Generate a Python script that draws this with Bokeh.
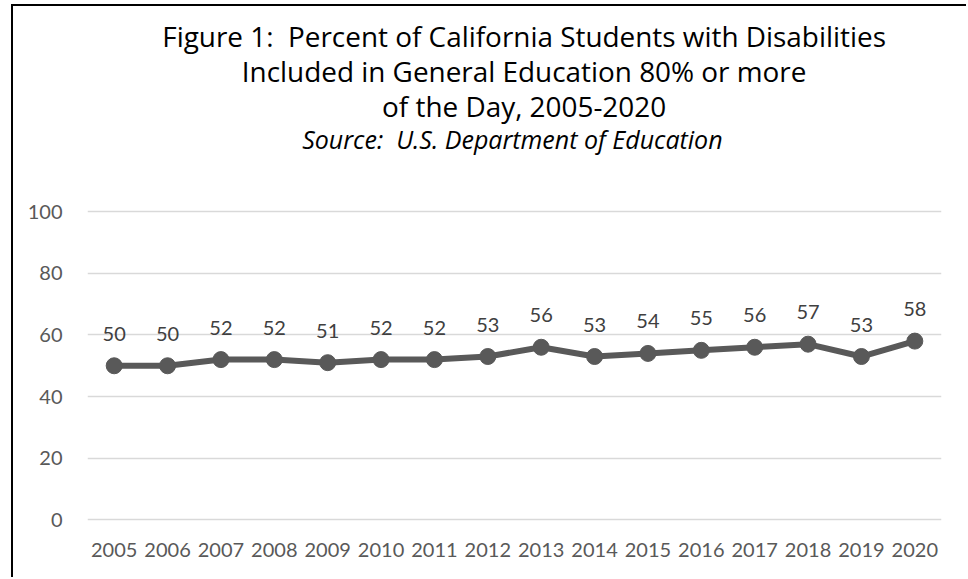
from bokeh.plotting import figure
from bokeh.models import ColumnDataSource, LabelSet, Label, Range1d
from bokeh.core.properties import value
from bokeh.embed import file_html
from bokeh.resources import INLINE

years = ["2005", "2006", "2007", "2008", "2009", "2010", "2011", "2012",
         "2013", "2014", "2015", "2016", "2017", "2018", "2019", "2020"]
values = [50, 50, 52, 52, 51, 52, 52, 53, 56, 53, 54, 55, 56, 57, 53, 58]
y_ticks = [0, 20, 40, 60, 80, 100]

NB = "\u00a0"
title_lines = ["Figure 1:" + NB + " Percent of California Students with Disabilities",
               "Included in General Education 80% or more",
               "of the Day, 2005-2020"]
subtitle = "Source:" + NB + " U.S. Department of Education"

FONT = "Lato"
TITLE_FONT = "Open Sans"

src = ColumnDataSource(data=dict(year=years, value=values,
                                 label=[str(v) for v in values]))

# the plot frame extends above the 0-100 value range to hold the title block
p = figure(x_range=years, y_range=Range1d(-0.5, 166.5), width=955, height=573,
           output_backend="svg", toolbar_location=None,
           min_border_left=74, min_border_right=27, min_border_bottom=58,
           min_border_top=0, outline_line_color=None,
           background_fill_color="white", border_fill_color="white")
p.styles = {"margin-left": "11px", "margin-top": "4px",
            "border-left": "2px solid black", "border-top": "2px solid black"}

p.line("year", "value", source=src, line_color="#595959", line_width=6)
p.scatter("year", "value", source=src, size=16, fill_color="#595959",
          line_color="#595959")

labels = LabelSet(x="year", y="value", text="label", source=src,
                  y_offset=32, text_align="center", text_baseline="middle",
                  text_font=value(FONT), text_font_size=value("20px"),
                  text_color="#404040")
p.add_layout(labels)

title_x = 8.18
title_y = [156.9, 145.6, 134.2]
for t, ty in zip(title_lines, title_y):
    p.add_layout(Label(x=title_x, y=ty, text=t, text_align="center",
                       text_baseline="middle", text_font=TITLE_FONT,
                       text_font_size="27.9px", text_color="#000000"))
p.add_layout(Label(x=7.96, y=123.4, text=subtitle, text_align="center",
                   text_baseline="middle", text_font=TITLE_FONT,
                   text_font_size="25px", text_font_style="italic",
                   text_color="#000000"))

p.yaxis.ticker = y_ticks
p.yaxis.axis_line_color = None
p.yaxis.major_tick_line_color = None
p.yaxis.minor_tick_line_color = None
p.yaxis.major_label_standoff = 19
p.xaxis.axis_line_color = None
p.xaxis.major_tick_line_color = None
p.xaxis.major_label_standoff = 15
for ax in (p.xaxis[0], p.yaxis[0]):
    ax.major_label_text_font = FONT
    ax.major_label_text_font_size = "20px"
    ax.major_label_text_color = "#595959"

p.xgrid.grid_line_color = None
p.ygrid.grid_line_color = "#d9d9d9"
p.ygrid.grid_line_width = 1.3

open("out.html", "w").write(file_html(p, INLINE))
